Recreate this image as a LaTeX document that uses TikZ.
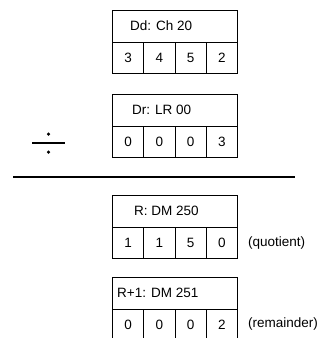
\documentclass[tikz,border=0pt]{standalone}
\usepackage{fontspec}
\setmainfont{Liberation Sans}
\tikzset{
  hdr/.style={draw, line width=1.3pt, minimum width=125pt, minimum height=32pt, inner sep=0pt, anchor=north west},
  cell/.style={draw, line width=1.1pt, minimum width=31.25pt, minimum height=31pt, inner sep=0pt, anchor=north west, font=\fontsize{13.5}{15}\selectfont},
  lbl/.style={anchor=west, inner sep=0pt, font=\fontsize{13.5}{15}\selectfont},
  divdot/.style={circle, fill, inner sep=0pt, minimum size=3.5pt},
}
\newcommand\regblock[8]{%
  \node[hdr] (#1h) at (112,#2) {};
  \node[lbl] (#1t) at (#4,#2+16) {#3};
  \node[cell] (#1a) at (112,#2+32) {#5};
  \node[cell] (#1b) at (143.25,#2+32) {#6};
  \node[cell] (#1c) at (174.5,#2+32) {#7};
  \node[cell] (#1d) at (205.75,#2+32) {#8};
}
\begin{document}
\begin{tikzpicture}[x=1pt,y=-1pt]
\useasboundingbox (0,0) rectangle (328,338);
\clip (0,0) rectangle (328,338);
\regblock{dd}{10}{Dd: Ch 20}{130}{3}{4}{5}{2}
\regblock{dr}{94}{Dr: LR 00}{132}{0}{0}{0}{3}
\regblock{rq}{195}{R: DM 250}{134}{1}{1}{5}{0}
\regblock{rr}{277}{R+1: DM 251}{117}{0}{0}{0}{2}
% division sign
\coordinate (divl) at (32,143);
\coordinate (divr) at (65,143);
\draw[line width=1.8pt] (divl) -- (divr);
\node[divdot] (dtop) at (48.5,134) {};
\node[divdot] (dbot) at (48.5,152) {};
% result line
\coordinate (rl) at (13,177);
\coordinate (rr) at (295,177);
\draw[line width=1.6pt] (rl) -- (rr);
% side labels
\node[lbl] (quot) at (248,243) {(quotient)};
\node[lbl] (rem) at (248,324) {(remainder)};
\end{tikzpicture}
\end{document}
